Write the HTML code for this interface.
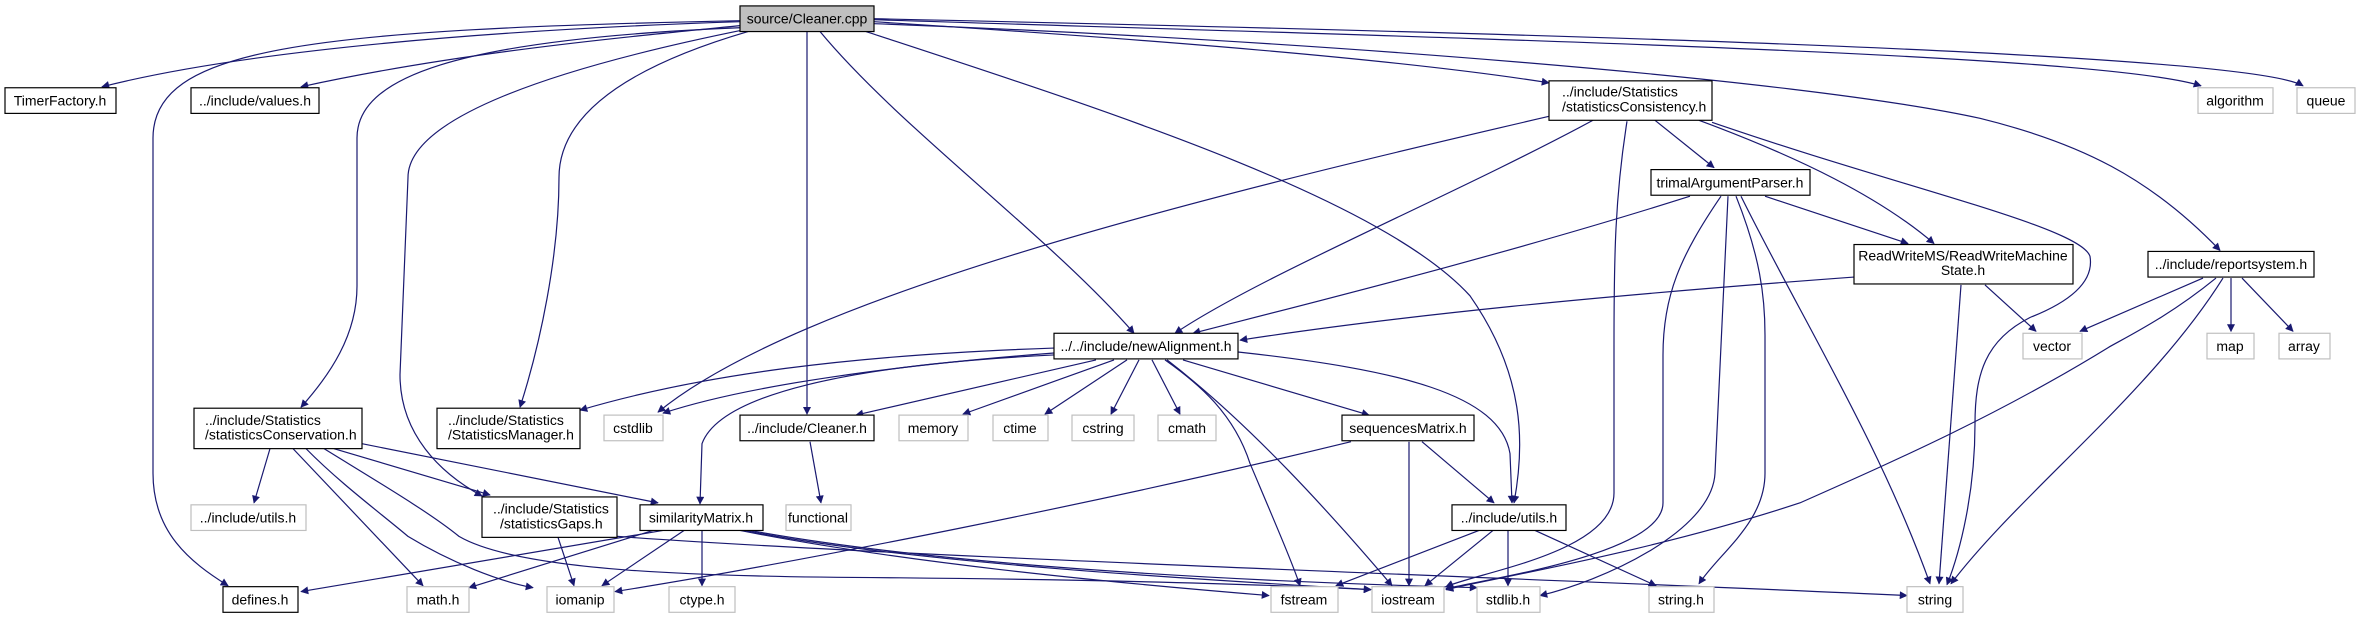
<!DOCTYPE html>
<html><head><meta charset="utf-8"><style>
html,body{margin:0;padding:0;background:#fff;}
svg{display:block;}
text{font-family:"Liberation Sans",sans-serif;font-size:14px;fill:#000;}
.e{fill:none;stroke:#191970;stroke-width:1.2;marker-end:url(#a);}
.b{fill:#fff;stroke:#000;stroke-width:1.2;}
.g{fill:#fff;stroke:#bfbfbf;stroke-width:1.2;}
</style></head><body>
<svg width="2360" height="619" viewBox="0 0 2360 619" xmlns="http://www.w3.org/2000/svg">
<defs><marker id="a" viewBox="0 0 10 10" refX="9" refY="5" markerWidth="10" markerHeight="8" markerUnits="userSpaceOnUse" orient="auto"><path d="M0,0 L10,5 L0,10 z" fill="#191970"/></marker></defs>
<g transform="scale(1,0.986)">
<!-- edges from Cleaner.cpp -->
<path class="e" d="M740,22 C500,30 250,50 102,88"/>
<path class="e" d="M740,26 C600,40 450,55 301,88"/>
<path class="e" d="M740,21 C300,30 153,50 153,140 L153,480 C153,540 190,570 228,594"/>
<path class="e" d="M742,28 C450,40 357,80 357,140 L357,290 C357,340 330,380 301,413"/>
<path class="e" d="M745,30 C550,70 408,120 408,180 L400,380 C400,440 440,480 482,503"/>
<path class="e" d="M748,32 C620,70 559,120 559,180 C559,260 540,350 520,413"/>
<path class="e" d="M807,32 L807,420"/>
<path class="e" d="M820,32 C900,130 1050,240 1134,338"/>
<path class="e" d="M866,32 C1100,110 1380,200 1470,300 C1525,380 1525,450 1514,510"/>
<path class="e" d="M874,22 C1150,40 1400,60 1549,84"/>
<path class="e" d="M874,20 C1500,40 2100,55 2201,87"/>
<path class="e" d="M874,19 C1600,35 2250,55 2303,87"/>
<path class="e" d="M874,24 C1300,40 1800,80 1980,120 C2080,145 2150,180 2220,254"/>
<!-- statisticsConsistency -->
<path class="e" d="M1549,118 C1200,200 800,300 658,418"/>
<path class="e" d="M1593,122 C1450,200 1260,280 1175,338"/>
<path class="e" d="M1627,123 C1615,200 1614,260 1614,350 L1614,500 C1614,560 1480,580 1446,595"/>
<path class="e" d="M1655,122 L1714,170"/>
<path class="e" d="M1699,122 C1800,160 1880,200 1934,247"/>
<path class="e" d="M1712,124 C1900,190 2080,230 2090,260 C2095,290 2060,310 2030,322 C1985,345 1975,380 1975,430 C1975,500 1960,560 1947,593"/>
<!-- trimalArgumentParser -->
<path class="e" d="M1690,199 C1500,260 1300,310 1193,338"/>
<path class="e" d="M1765,199 L1908,247"/>
<path class="e" d="M1721,199 C1680,260 1663,300 1663,360 L1663,510 C1663,560 1500,585 1446,597"/>
<path class="e" d="M1728,199 L1715,480 C1712,540 1600,590 1540,604"/>
<path class="e" d="M1736,199 C1760,260 1765,300 1765,340 L1765,480 C1765,530 1720,560 1699,592"/>
<path class="e" d="M1741,199 C1800,320 1880,450 1930,592"/>
<!-- RWMS -->
<path class="e" d="M1854,281 C1600,300 1400,320 1240,345"/>
<path class="e" d="M1985,289 L2036,336"/>
<path class="e" d="M1961,289 L1939,592"/>
<!-- reportsystem -->
<path class="e" d="M2203,282 L2080,336"/>
<path class="e" d="M2231,282 L2231,336"/>
<path class="e" d="M2242,282 L2293,336"/>
<path class="e" d="M2223,282 C2150,400 2020,500 1951,592"/>
<path class="e" d="M2216,282 C2170,320 2130,340 2109,352 C2000,420 1900,465 1800,510 C1650,560 1500,585 1446,598"/>
<!-- newAlignment -->
<path class="e" d="M1054,353 C850,360 700,380 580,416"/>
<path class="e" d="M1054,358 C900,370 750,390 663,419"/>
<path class="e" d="M1054,360 C850,370 720,400 702,450 L700,511"/>
<path class="e" d="M1096,365 L856,421"/>
<path class="e" d="M1114,365 L963,420"/>
<path class="e" d="M1127,365 L1045,420"/>
<path class="e" d="M1139,365 L1111,420"/>
<path class="e" d="M1152,365 L1180,420"/>
<path class="e" d="M1183,365 L1369,421"/>
<path class="e" d="M1238,357 C1400,375 1500,400 1510,460 L1512,510"/>
<path class="e" d="M1165,365 C1200,390 1234,420 1250,470 C1275,530 1292,570 1300,594"/>
<path class="e" d="M1167,365 C1250,430 1330,520 1392,594"/>
<!-- sequencesMatrix -->
<path class="e" d="M1351,448 C1100,510 800,570 615,600"/>
<path class="e" d="M1409,448 L1409,594"/>
<path class="e" d="M1422,448 L1494,510"/>
<!-- utils.h -->
<path class="e" d="M1479,538 L1336,594"/>
<path class="e" d="M1493,538 L1425,594"/>
<path class="e" d="M1508,538 L1508,594"/>
<path class="e" d="M1535,538 L1656,594"/>
<!-- Cleaner.h -->
<path class="e" d="M810,448 L821,510"/>
<!-- statisticsConservation -->
<path class="e" d="M270,455 L254,510"/>
<path class="e" d="M293,455 L423,594"/>
<path class="e" d="M306,455 C340,490 380,520 408,544 C450,570 500,590 533,596"/>
<path class="e" d="M334,455 L490,502"/>
<path class="e" d="M362,450 L658,510"/>
<path class="e" d="M324,455 C380,490 430,520 459,544 C520,580 700,585 900,586 C1100,588 1250,592 1371,598"/>
<!-- statisticsGaps -->
<path class="e" d="M558,545 L574,594"/>
<path class="e" d="M617,544 C900,565 1500,585 1907,604"/>
<!-- similarityMatrix -->
<path class="e" d="M663,538 L301,600"/>
<path class="e" d="M653,538 L469,596"/>
<path class="e" d="M684,538 L602,594"/>
<path class="e" d="M702,538 L702,594"/>
<path class="e" d="M740,538 C900,570 1100,590 1269,604"/>
<path class="e" d="M745,538 C900,570 1200,588 1371,598"/>
<path class="e" d="M750,538 C950,575 1250,590 1477,596"/>

<!-- nodes -->
<rect x="740" y="6" width="134" height="26" fill="#bfbfbf" stroke="#000" stroke-width="1.2"/><text x="807" y="24" text-anchor="middle">source/Cleaner.cpp</text>
<rect class="b" x="5" y="89" width="111" height="26"/><text x="60" y="107" text-anchor="middle">TimerFactory.h</text>
<rect class="b" x="191" y="89" width="128" height="26"/><text x="255" y="107" text-anchor="middle">../include/values.h</text>
<rect class="b" x="194" y="414" width="168" height="41"/><text x="205" y="431">../include/Statistics</text><text x="205" y="446">/statisticsConservation.h</text>
<rect class="b" x="437" y="414" width="143" height="41"/><text x="448" y="431">../include/Statistics</text><text x="448" y="446">/StatisticsManager.h</text>
<rect class="g" x="604" y="421" width="59" height="26"/><text x="633" y="439" text-anchor="middle">cstdlib</text>
<rect class="b" x="740" y="421" width="134" height="26"/><text x="807" y="439" text-anchor="middle">../include/Cleaner.h</text>
<rect class="g" x="191" y="512" width="115" height="26"/><text x="248" y="530" text-anchor="middle">../include/utils.h</text>
<rect class="b" x="482" y="504" width="135" height="41"/><text x="493" y="521">../include/Statistics</text><text x="500" y="536">/statisticsGaps.h</text>
<rect class="b" x="640" y="512" width="123" height="26"/><text x="701" y="530" text-anchor="middle">similarityMatrix.h</text>
<rect class="g" x="786" y="512" width="65" height="26"/><text x="818" y="530" text-anchor="middle">functional</text>
<rect class="b" x="223" y="595" width="75" height="26"/><text x="260" y="613" text-anchor="middle">defines.h</text>
<rect class="g" x="407" y="595" width="62" height="26"/><text x="438" y="613" text-anchor="middle">math.h</text>
<rect class="g" x="547" y="595" width="67" height="26"/><text x="580" y="613" text-anchor="middle">iomanip</text>
<rect class="g" x="669" y="595" width="66" height="26"/><text x="702" y="613" text-anchor="middle">ctype.h</text>
<rect class="b" x="1054" y="338" width="184" height="26"/><text x="1146" y="356" text-anchor="middle">../../include/newAlignment.h</text>
<rect class="g" x="899" y="421" width="69" height="26"/><text x="933" y="439" text-anchor="middle">memory</text>
<rect class="g" x="993" y="421" width="55" height="26"/><text x="1020" y="439" text-anchor="middle">ctime</text>
<rect class="g" x="1072" y="421" width="62" height="26"/><text x="1103" y="439" text-anchor="middle">cstring</text>
<rect class="g" x="1158" y="421" width="58" height="26"/><text x="1187" y="439" text-anchor="middle">cmath</text>
<rect class="b" x="1342" y="421" width="132" height="26"/><text x="1408" y="439" text-anchor="middle">sequencesMatrix.h</text>
<rect class="b" x="1452" y="512" width="114" height="26"/><text x="1509" y="530" text-anchor="middle">../include/utils.h</text>
<rect class="g" x="1271" y="595" width="67" height="26"/><text x="1304" y="613" text-anchor="middle">fstream</text>
<rect class="g" x="1372" y="595" width="72" height="26"/><text x="1408" y="613" text-anchor="middle">iostream</text>
<rect class="g" x="1477" y="595" width="63" height="26"/><text x="1508" y="613" text-anchor="middle">stdlib.h</text>
<rect class="b" x="1549" y="82" width="163" height="40"/><text x="1562" y="98">../include/Statistics</text><text x="1562" y="113">/statisticsConsistency.h</text>
<rect class="g" x="2198" y="89" width="75" height="26"/><text x="2235" y="107" text-anchor="middle">algorithm</text>
<rect class="g" x="2297" y="89" width="58" height="26"/><text x="2326" y="107" text-anchor="middle">queue</text>
<rect class="b" x="1651" y="172" width="159" height="26"/><text x="1730" y="190" text-anchor="middle">trimalArgumentParser.h</text>
<rect class="b" x="1854" y="248" width="219" height="40"/><text x="1963" y="264" text-anchor="middle">ReadWriteMS/ReadWriteMachine</text><text x="1963" y="279" text-anchor="middle">State.h</text>
<rect class="b" x="2148" y="255" width="166" height="26"/><text x="2231" y="273" text-anchor="middle">../include/reportsystem.h</text>
<rect class="g" x="2023" y="338" width="59" height="26"/><text x="2052" y="356" text-anchor="middle">vector</text>
<rect class="g" x="2207" y="338" width="47" height="26"/><text x="2230" y="356" text-anchor="middle">map</text>
<rect class="g" x="2279" y="338" width="51" height="26"/><text x="2304" y="356" text-anchor="middle">array</text>
<rect class="g" x="1649" y="595" width="65" height="26"/><text x="1681" y="613" text-anchor="middle">string.h</text>
<rect class="g" x="1907" y="595" width="56" height="26"/><text x="1935" y="613" text-anchor="middle">string</text>
</g>
</svg>
</body></html>
